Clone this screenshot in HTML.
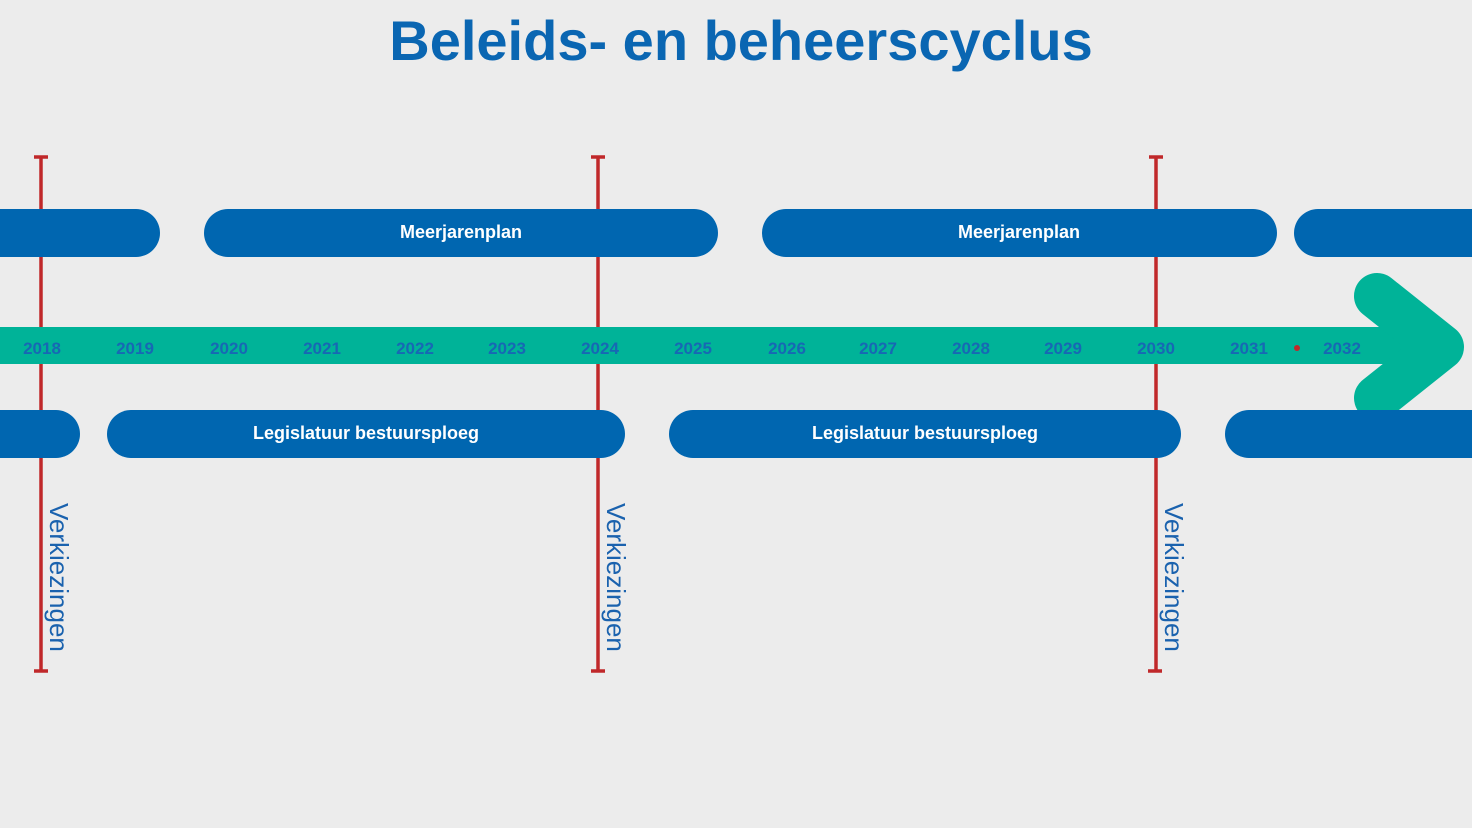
<!DOCTYPE html>
<html><head><meta charset="utf-8"><style>
body{margin:0;width:1472px;height:828px;background:#ececec;overflow:hidden;font-family:"Liberation Sans",sans-serif;}
svg{display:block}
</style></head><body>
<svg width="1472" height="828" viewBox="0 0 1472 828" xmlns="http://www.w3.org/2000/svg">
<text x="741" y="60" text-anchor="middle" font-family="Liberation Sans, sans-serif" font-weight="bold" font-size="56" fill="#0a66b2">Beleids- en beheerscyclus</text>
<g stroke="#c0282a" stroke-width="3.5">
<line x1="41" y1="157" x2="41" y2="671"/><line x1="34" y1="157" x2="48" y2="157"/><line x1="34" y1="671" x2="48" y2="671"/>
<line x1="598" y1="157" x2="598" y2="671"/><line x1="591" y1="157" x2="605" y2="157"/><line x1="591" y1="671" x2="605" y2="671"/>
<line x1="1156" y1="157" x2="1156" y2="671"/><line x1="1149" y1="157" x2="1163" y2="157"/><line x1="1148" y1="671" x2="1162" y2="671"/>
</g>
<rect x="0" y="327" width="1420" height="37" fill="#00b398"/>
<polyline points="1377,296 1441,347 1377,398" fill="none" stroke="#00b398" stroke-width="46" stroke-linecap="round" stroke-linejoin="round"/>
<g fill="#0066b0">
<rect x="-60" y="209" width="220" height="48" rx="24"/>
<rect x="204" y="209" width="514" height="48" rx="24"/>
<rect x="762" y="209" width="515" height="48" rx="24"/>
<rect x="1294" y="209" width="260" height="48" rx="24"/>
<rect x="-60" y="410" width="140" height="48" rx="24"/>
<rect x="107" y="410" width="518" height="48" rx="24"/>
<rect x="669" y="410" width="512" height="48" rx="24"/>
<rect x="1225" y="410" width="300" height="48" rx="24"/>
</g>
<g fill="#fff" font-weight="bold" font-size="18" text-anchor="middle" font-family="Liberation Sans, sans-serif">
<text x="461" y="238">Meerjarenplan</text>
<text x="1019" y="238">Meerjarenplan</text>
<text x="366" y="439">Legislatuur bestuursploeg</text>
<text x="925" y="439">Legislatuur bestuursploeg</text>
</g>
<g fill="#1768b4" font-weight="bold" font-size="17" text-anchor="middle" font-family="Liberation Sans, sans-serif">
<text x="42" y="354">2018</text><text x="135" y="354">2019</text><text x="229" y="354">2020</text><text x="322" y="354">2021</text><text x="415" y="354">2022</text><text x="507" y="354">2023</text><text x="600" y="354">2024</text><text x="693" y="354">2025</text><text x="787" y="354">2026</text><text x="878" y="354">2027</text><text x="971" y="354">2028</text><text x="1063" y="354">2029</text><text x="1156" y="354">2030</text><text x="1249" y="354">2031</text><text x="1342" y="354">2032</text>
</g>
<circle cx="1297" cy="348" r="3" fill="#c0282a"/>
<g fill="#1a62ae" font-size="26" font-family="Liberation Sans, sans-serif">
<text transform="translate(50,503) rotate(90)">Verkiezingen</text>
<text transform="translate(607,503) rotate(90)">Verkiezingen</text>
<text transform="translate(1165,503) rotate(90)">Verkiezingen</text>
</g>
</svg>
</body></html>
